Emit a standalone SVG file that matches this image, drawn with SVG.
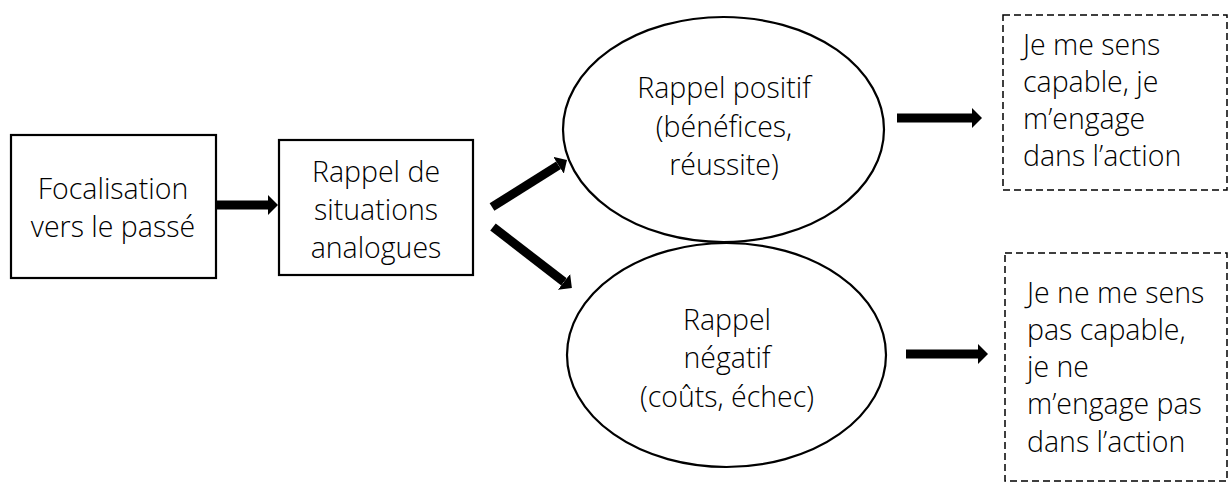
<svg xmlns="http://www.w3.org/2000/svg" width="1230" height="482" viewBox="0 0 1230 482">
<defs>
<style>
.box{fill:#fff;stroke:#000;stroke-width:2.2}
.dash{fill:#fff;stroke:#000;stroke-width:1.5;stroke-dasharray:7 4}
.t{font-family:"Open Sans","Liberation Sans",sans-serif;font-weight:300;font-size:28.5px;fill:#000}
.c{text-anchor:middle}
.arr{stroke:#000;stroke-width:9;fill:none;marker-end:url(#ah)}
</style>
<marker id="ah" markerUnits="userSpaceOnUse" markerWidth="12" markerHeight="22" refX="0" refY="10" orient="auto" viewBox="0 0 12 22">
<path d="M0,0 L10,10 L0,20 z" fill="#000"/>
</marker>
</defs>
<rect width="1230" height="482" fill="#fff"/>
<g id="connectors">
<line class="arr" x1="216" y1="205" x2="268" y2="205"/>
<line class="arr" x1="492" y1="207" x2="558.5" y2="165.3"/>
<line class="arr" x1="493" y1="227" x2="564" y2="281.9"/>
<line class="arr" x1="897" y1="118" x2="972" y2="118"/>
<line class="arr" x1="906" y1="354" x2="978" y2="354"/>
</g>
<g id="n1">
<rect class="box" x="11" y="135" width="205" height="143"/>
<text class="t c" x="113" y="199">Focalisation</text>
<text class="t c" x="113" y="237">vers le passé</text>
</g>
<g id="n2">
<rect class="box" x="279" y="140" width="194" height="135"/>
<text class="t c" x="376" y="182">Rappel de</text>
<text class="t c" x="376" y="220">situations</text>
<text class="t c" x="376" y="258">analogues</text>
</g>
<g id="n3">
<ellipse class="box" cx="723.5" cy="129.5" rx="160.5" ry="112.5"/>
<text class="t c" x="724" y="98">Rappel positif</text>
<text class="t c" x="724" y="137">(bénéfices,</text>
<text class="t c" x="724" y="175">réussite)</text>
</g>
<g id="n4">
<ellipse class="box" cx="726.5" cy="355" rx="159.5" ry="112"/>
<text class="t c" x="727" y="330">Rappel</text>
<text class="t c" x="727" y="368">négatif</text>
<text class="t c" x="727" y="407">(coûts, échec)</text>
</g>
<g id="n5">
<rect class="dash" x="1003" y="15" width="224" height="175"/>
<text class="t" x="1023" y="55">Je me sens</text>
<text class="t" x="1023" y="92">capable, je</text>
<text class="t" x="1023" y="129">m’engage</text>
<text class="t" x="1023" y="166">dans l’action</text>
</g>
<g id="n6">
<rect class="dash" x="1005" y="253" width="222" height="228"/>
<text class="t" x="1027" y="303">Je ne me sens</text>
<text class="t" x="1027" y="340">pas capable,</text>
<text class="t" x="1027" y="377">je ne</text>
<text class="t" x="1027" y="414">m’engage pas</text>
<text class="t" x="1027" y="452">dans l’action</text>
</g>
</svg>
